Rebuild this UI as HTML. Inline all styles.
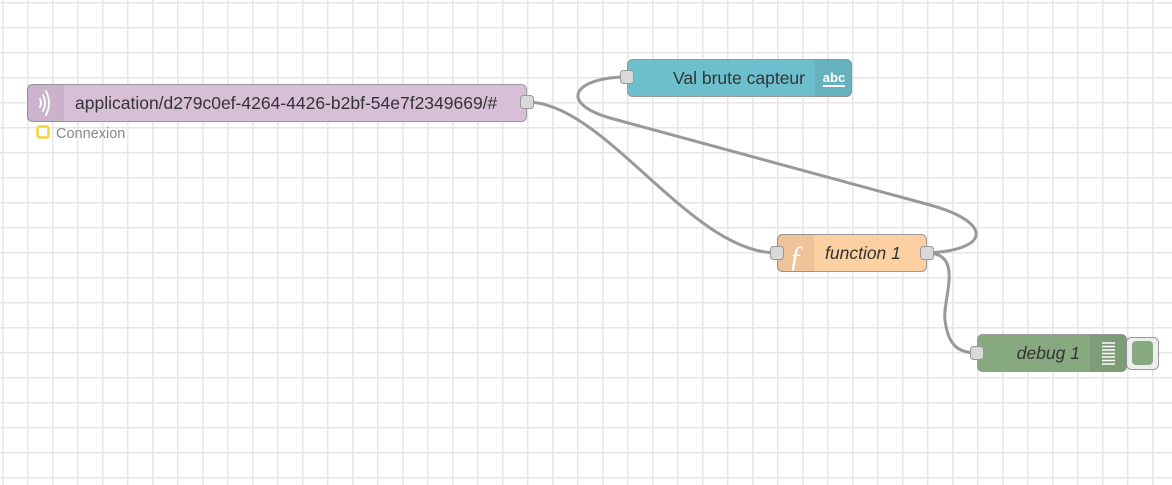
<!DOCTYPE html>
<html><head><meta charset="utf-8"><style>
html,body{margin:0;padding:0;width:1172px;height:485px;overflow:hidden;background:#fff;}
svg{display:block;font-family:"Liberation Sans",sans-serif;}
</style></head><body>
<svg width="1172" height="485" xmlns="http://www.w3.org/2000/svg">
<defs>
<pattern id="g" width="25" height="25" patternUnits="userSpaceOnUse" x="2" y="2">
<path d="M0 0H25M0 0V25" stroke="#e6e6e6" stroke-width="3" fill="none"/>
</pattern>
</defs>
<rect width="1172" height="485" fill="url(#g)"/>
<g fill="none" stroke="#999" stroke-width="3" stroke-linecap="round">
<path d="M527,102 C605,102 690,253 777,253"/>
<path d="M927,253 C992,250 992,222 930,205 L610,118 C556,102 576,77 627,77"/>
<path d="M927,253 C965,253 942,300 945,320 C948,345 958,353 977,353"/>
</g>
<!-- mqtt node -->
<rect x="27.5" y="84.5" width="499" height="37" rx="5" fill="#d8bfd8" stroke="#999"/>
<path d="M32,84.5 h31 v37 h-31 a5,5 0 0 1 -5,-5 v-27 a5,5 0 0 1 5,-5z" fill="#000" fill-opacity="0.06"/>
<line x1="63" y1="85" x2="63" y2="121" stroke="#000" stroke-opacity="0.1"/>
<g fill="none" stroke="#fff" stroke-width="1.8" stroke-linecap="round">
<path d="M40,99 q2,4 0,8"/><path d="M43,95 q4,8 0,16"/><path d="M46,91 q6,12 0,24"/>
</g>
<text x="75" y="109" font-size="17.5" fill="#333">application/d279c0ef-4264-4426-b2bf-54e7f2349669/#</text>
<rect x="520.5" y="95.5" width="13" height="13" rx="3" fill="#d9d9d9" stroke="#999"/>
<rect x="37.5" y="126.5" width="11" height="11" rx="2" fill="#fff" stroke="#f5d33a" stroke-width="2.5"/>
<text x="56" y="138" font-size="14.5" fill="#888">Connexion</text>
<!-- val brute -->
<rect x="627.5" y="59.5" width="224" height="37" rx="5" fill="#6dbfcd" stroke="#999"/>
<path d="M815,59.5 h32 a5,5 0 0 1 5,5 v27 a5,5 0 0 1 -5,5 h-32z" fill="#000" fill-opacity="0.07"/>
<text x="805" y="84" font-size="17.5" fill="#333" text-anchor="end">Val brute capteur</text>
<text x="834" y="82" font-size="13" font-weight="bold" fill="#fff" text-anchor="middle">abc</text>
<rect x="823" y="85" width="22" height="2" fill="#fff"/>
<rect x="620.5" y="70.5" width="13" height="13" rx="3" fill="#d9d9d9" stroke="#999"/>
<!-- function -->
<rect x="777.5" y="234.5" width="149" height="37" rx="5" fill="#fdd0a2" stroke="#999"/>
<path d="M782,234.5 h32 v37 h-32 a5,5 0 0 1 -5,-5 v-27 a5,5 0 0 1 5,-5z" fill="#000" fill-opacity="0.06"/>
<text x="796" y="266" font-size="30" fill="#fff" font-style="italic" text-anchor="middle" font-family="Liberation Serif,serif">ƒ</text>
<text x="825" y="259" font-size="17.5" fill="#333" font-style="italic">function 1</text>
<rect x="770.5" y="246.5" width="13" height="13" rx="3" fill="#d9d9d9" stroke="#999"/>
<rect x="920.5" y="246.5" width="13" height="13" rx="3" fill="#d9d9d9" stroke="#999"/>
<!-- debug -->
<rect x="1126.5" y="337.5" width="32" height="32" rx="5" fill="#eee" stroke="#999"/>
<rect x="1132" y="341" width="21" height="24" rx="4" fill="#87a980"/>
<rect x="977.5" y="334.5" width="149" height="37" rx="5" fill="#87a980" stroke="#999"/>
<path d="M1090,334.5 h32 a5,5 0 0 1 5,5 v27 a5,5 0 0 1 -5,5 h-32z" fill="#000" fill-opacity="0.07"/>
<g stroke="#fff" stroke-width="1.5">
<line x1="1102" y1="343" x2="1115" y2="343"/><line x1="1102" y1="346.5" x2="1115" y2="346.5"/><line x1="1102" y1="350" x2="1115" y2="350"/><line x1="1102" y1="353.5" x2="1115" y2="353.5"/><line x1="1102" y1="357" x2="1115" y2="357"/><line x1="1102" y1="360.5" x2="1115" y2="360.5"/><line x1="1102" y1="364" x2="1115" y2="364"/>
</g>
<text x="1080" y="359" font-size="17.5" fill="#333" font-style="italic" text-anchor="end">debug 1</text>
<rect x="970.5" y="346.5" width="13" height="13" rx="3" fill="#d9d9d9" stroke="#999"/>
</svg>
</body></html>
